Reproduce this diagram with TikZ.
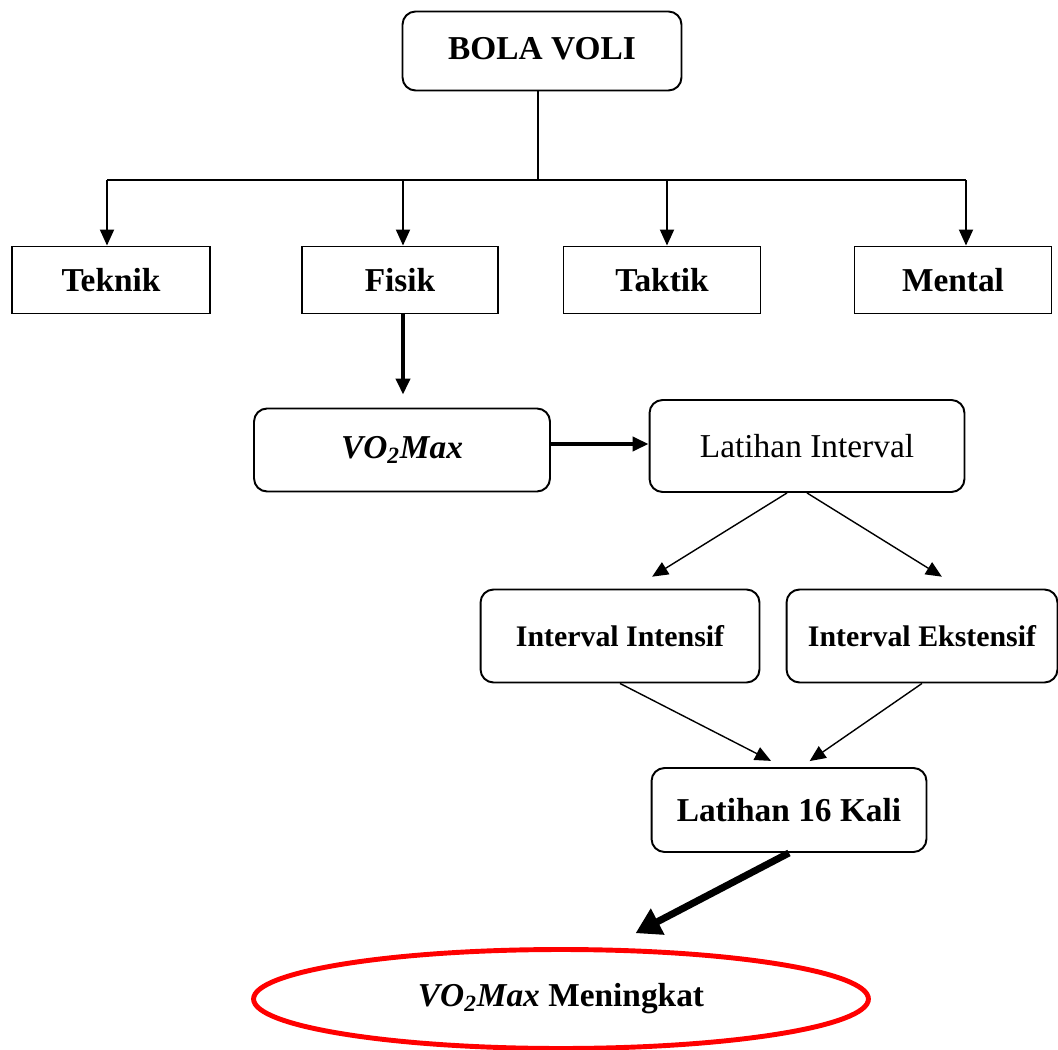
\documentclass[tikz,border=0pt]{standalone}
\usepackage{fontspec}
\setmainfont{Liberation Serif}
\usetikzlibrary{arrows.meta}
\usetikzlibrary{shapes.geometric}

\tikzset{
  kotak/.style={draw, line width=1.1pt, minimum height=1.34cm, inner sep=0pt, font=\fontsize{19}{22}\selectfont\bfseries},
  bulat/.style={kotak, rounded corners=0.26cm},
  panah/.style={-{Triangle[length=0.32cm,width=0.28cm]}},
}
\newcommand{\vomax}{\textbf{\textit{VO\textsubscript{2}Max}}}

\begin{document}
\begin{tikzpicture}[x=0.02cm, y=-0.02cm]
    \useasboundingbox (0,0) rectangle (1058,1050);
    \node[bulat, minimum width=5.58cm, minimum height=1.58cm] (bola) at (542,51) {\raisebox{0.12cm}{BOLA VOLI}};
    \node[kotak, minimum width=3.96cm] (teknik) at (111,280) {Teknik};
    \node[kotak, minimum width=3.92cm] (fisik) at (400,280) {Fisik};
    \node[kotak, minimum width=3.94cm] (taktik) at (662,280) {Taktik};
    \node[kotak, minimum width=3.94cm] (mental) at (953,280) {Mental};
    \node[bulat, minimum width=5.92cm, minimum height=1.66cm] (vomax) at (402,450) {\vomax};
    \node[bulat, minimum width=6.3cm, minimum height=1.84cm, font=\fontsize{19}{22}\selectfont] (latint) at (807,446) {Latihan Interval};
    \node[bulat, minimum width=5.58cm, minimum height=1.86cm, font=\fontsize{17}{20}\selectfont\bfseries] (intensif) at (620,636) {Interval Intensif};
    \node[bulat, minimum width=5.42cm, minimum height=1.86cm, font=\fontsize{17}{20}\selectfont\bfseries] (ekstensif) at (922,636) {Interval Ekstensif};
    \node[bulat, minimum width=5.5cm, minimum height=1.68cm] (latih) at (789,810) {Latihan 16 Kali};
    \node[draw=red, ellipse, line width=2.8pt, minimum width=12.3cm, minimum height=1.98cm, inner sep=0pt, font=\fontsize{19}{22}\selectfont] (naik) at (561,999) {\vomax{} \textbf{Meningkat}};

    \draw [line width=1.1pt] ([xshift=-0.08cm]bola.south) -- ++(0,89) coordinate (cab);
    \draw [line width=1.1pt] ([xshift=-0.08cm]teknik.north |- cab) -- ([xshift=0.26cm]mental.north |- cab);
    \foreach \n/\g in {teknik/-0.08,fisik/0.06,taktik/0.1,mental/0.26}
        \draw [line width=1.1pt, panah] ([xshift=\g cm]\n.north |- cab) -- ([xshift=\g cm]\n.north);
    \draw [line width=2.2pt, panah, shorten >=0.26cm] ([xshift=0.06cm]fisik.south) -- ([xshift=0.06cm]fisik.south |- vomax.north);
    \draw [line width=2.2pt, panah] ([yshift=0.12cm]vomax.east) -- ([yshift=0.12cm]vomax.east -| latint.west);
    \draw [line width=0.8pt, panah, shorten >=0.45cm] ([xshift=-0.4cm]latint.south) -- ([xshift=0.26cm]intensif.north);
    \draw [line width=0.8pt, panah, shorten >=0.45cm] (latint.south) -- ([xshift=0.78cm]ekstensif.north);
    \draw [line width=0.8pt, panah, shorten >=0.27cm] (intensif.south) -- ([xshift=-0.12cm]latih.north);
    \draw [line width=0.8pt, panah, shorten >=0.21cm] (ekstensif.south) -- ([xshift=0.24cm]latih.north);
    \draw [line width=4pt, -{Triangle[length=0.5cm,width=0.56cm]}, shorten >=0.6cm] (latih.south) -- ([xshift=0.96cm]naik.north);
\end{tikzpicture}
\end{document}
